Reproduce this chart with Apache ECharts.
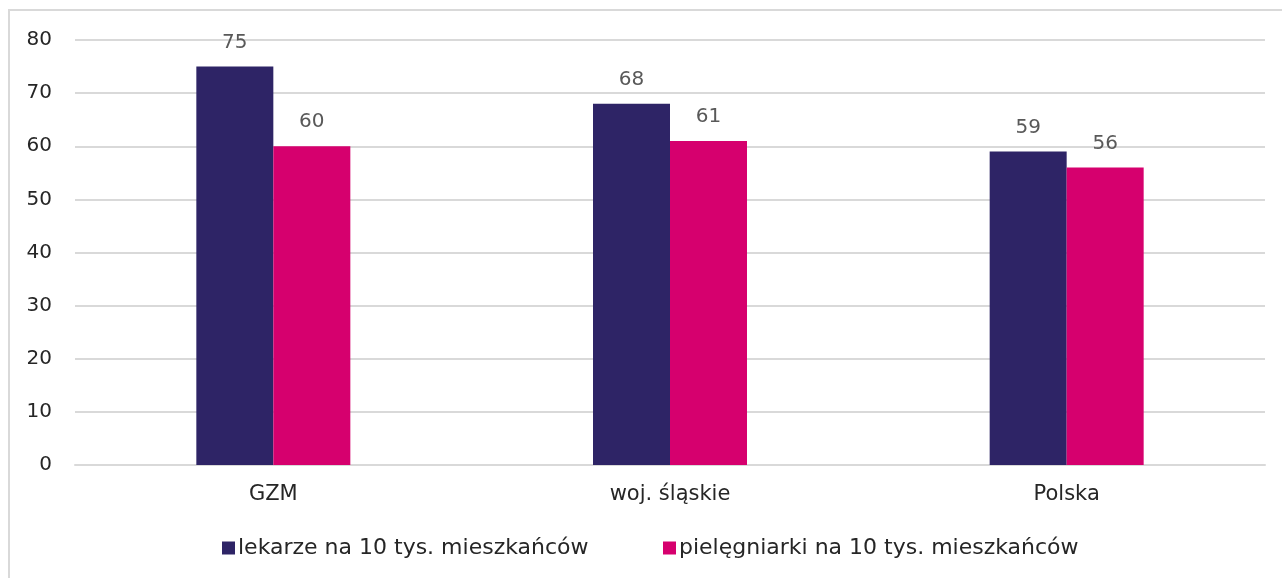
<!DOCTYPE html>
<html><head><meta charset="utf-8">
<script src="https://cdn.jsdelivr.net/npm/echarts@6/dist/echarts.min.js"></script>
<style>html,body{margin:0;padding:0;background:#fff}#c{width:1282px;height:578px}</style>
</head><body><div id="c"></div>
<script>
const categories = ['GZM', 'woj. śląskie', 'Polska'];
const seriesNames = ['lekarze na 10 tys. mieszkańców', 'pielęgniarki na 10 tys. mieszkańców'];
const lekarze = [75, 68, 59];
const pielegniarki = [60, 61, 56];
const colors = ['#2E2466', '#D6006E'];
const font = '"DejaVu Sans", sans-serif';
const chart = echarts.init(document.getElementById('c'), null, {renderer: 'canvas'});
const labelStyle = {show: true, position: 'top', distance: 14, color: '#595959', fontSize: 20, fontFamily: font};
const legendBase = {
  top: 537, itemWidth: 13, itemHeight: 13, icon: 'rect', padding: 0,
  textStyle: {fontSize: 22, color: '#262626', fontFamily: font, padding: [0, 0, 0, -2]}
};
chart.setOption({
  animation: false,
  color: colors,
  graphic: [{type: 'rect', shape: {x: 9, y: 10, width: 1300, height: 600}, style: {fill: 'none', stroke: '#d9d9d9', lineWidth: 2}, silent: true}],
  grid: {left: 75, right: 17, top: 40, bottom: 113},
  legend: [
    Object.assign({}, legendBase, {left: 222, data: [seriesNames[0]]}),
    Object.assign({}, legendBase, {left: 663, data: [seriesNames[1]]})
  ],
  xAxis: {
    type: 'category', data: categories,
    axisLine: {show: true, lineStyle: {color: '#d9d9d9', width: 2}},
    axisTick: {show: false},
    axisLabel: {fontSize: 21, color: '#262626', fontFamily: font, margin: 19}
  },
  yAxis: {
    type: 'value', min: 0, max: 80, interval: 10,
    axisLine: {show: false}, axisTick: {show: false},
    splitLine: {lineStyle: {color: '#d9d9d9', width: 2}},
    axisLabel: {fontSize: 20, color: '#262626', fontFamily: font, margin: 23}
  },
  series: [
    {name: seriesNames[0], type: 'bar', data: lekarze, barWidth: 77, barGap: '0%', label: labelStyle},
    {name: seriesNames[1], type: 'bar', data: pielegniarki, barWidth: 77, barGap: '0%', label: labelStyle}
  ]
});
</script></body></html>
